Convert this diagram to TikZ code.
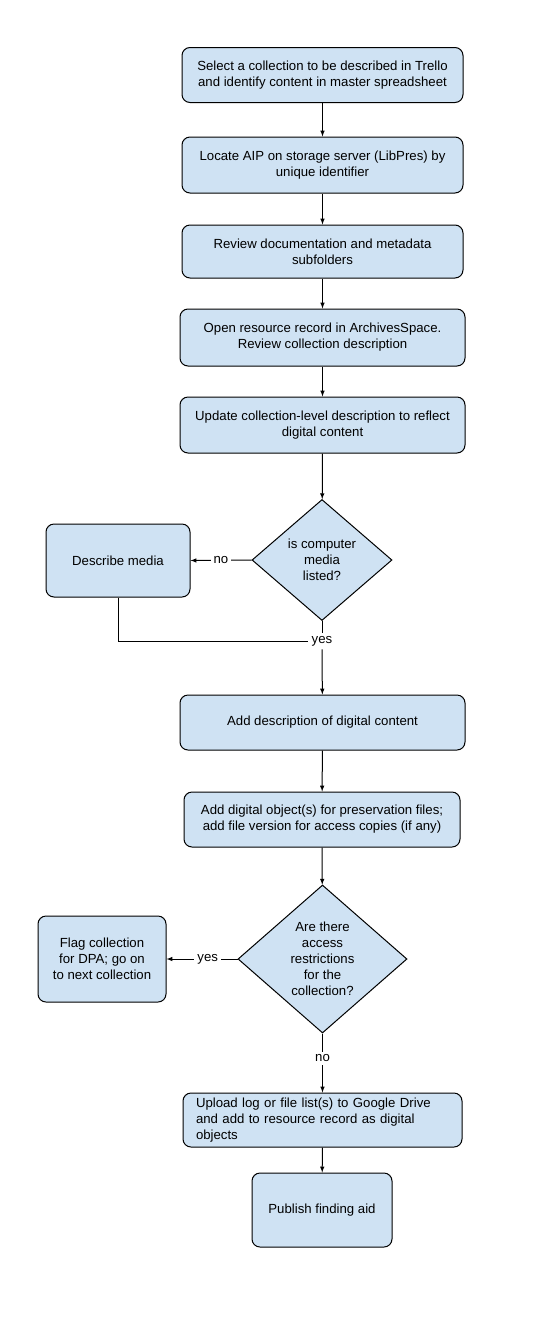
\documentclass[tikz,border=0pt]{standalone}
\usepackage{fontspec}
\setmainfont{Liberation Sans}
\usetikzlibrary{positioning,arrows,shapes.geometric}
\definecolor{boxblue}{HTML}{CFE2F3}

\begin{document}
\begin{tikzpicture}[x=1pt,y=-1pt,line width=1pt]
 \tikzset{arrow/.style={-latex},
  process/.style={draw,fill=boxblue,rounded corners=8pt,align=center,inner sep=2pt,font=\fontsize{13.2}{16}\selectfont},
  decision/.style={draw,fill=boxblue,diamond,inner sep=0pt,align=center,font=\fontsize{13.2}{16}\selectfont},
  answer/.style={fill=white,inner sep=3pt,font=\fontsize{13.2}{16}\selectfont}}
 \useasboundingbox[fill=white] (0,0) rectangle (548,1326);

 \node[process,minimum width=281,minimum height=55] (select) at (322.5,75) {Select a collection to be described in Trello\\and identify content in master spreadsheet};
 \node[process,minimum width=281,minimum height=56] (locate) at (322.5,165) {Locate AIP on storage server (LibPres) by\\unique identifier};
 \node[process,minimum width=281,minimum height=53] (review) at (322.5,251.5) {Review documentation and metadata\\subfolders};
 \node[process,minimum width=285,minimum height=57] (open) at (322.5,337.5) {Open resource record in ArchivesSpace.\\Review collection description};
 \node[process,minimum width=285,minimum height=56] (update) at (322.5,425) {Update collection-level description to reflect\\digital content};
 \node[decision,minimum width=140,minimum height=121] (listed) at (322,560) {is computer\\media\\listed?};
 \node[process,minimum width=144,minimum height=73] (media) at (118,560.5) {Describe media};
 \node[answer] (yesA) at (322,641) {yes};
 \node[process,minimum width=285,minimum height=55] (content) at (322.5,722.5) {Add description of digital content};
 \node[process,minimum width=276,minimum height=55] (objects) at (322,819.5) {Add digital object(s) for preservation files;\\add file version for access copies (if any)};
 \node[decision,minimum width=169,minimum height=148] (restrict) at (322.5,959) {Are there\\access\\restrictions\\for the\\collection?};
 \node[process,minimum width=128,minimum height=86] (flag) at (102,959) {Flag collection\\for DPA; go on\\to next collection};
 \node[process,minimum height=54,text width=253,inner xsep=13pt,align=left] (upload) at (322.5,1120) {Upload log or file list(s) to Google Drive\\and add to resource record as digital\\objects};
 \node[process,minimum width=140,minimum height=74] (publish) at (322,1210) {Publish finding aid};

 \draw[arrow] (select) -- (locate);
 \draw[arrow] (locate) -- (review);
 \draw[arrow] (review) -- (open);
 \draw[arrow] (open) -- (update);
 \draw[arrow] (update) -- (listed);
 \draw[arrow] (listed.west) -- node[answer] {no} (media.east);
 \draw (listed.south) -- (yesA);
 \draw (media.south) |- (yesA.west);
 \draw[arrow] (yesA) -- (content);
 \draw[arrow] (content) -- (objects);
 \draw[arrow] (objects) -- (restrict);
 \draw[arrow] (restrict.west) -- node[answer,pos=0.42] {yes} (flag.east);
 \draw[arrow] (restrict.south) -- node[answer,pos=0.42] {no} (upload.north);
 \draw[arrow] (upload) -- (publish);
\end{tikzpicture}
\end{document}
